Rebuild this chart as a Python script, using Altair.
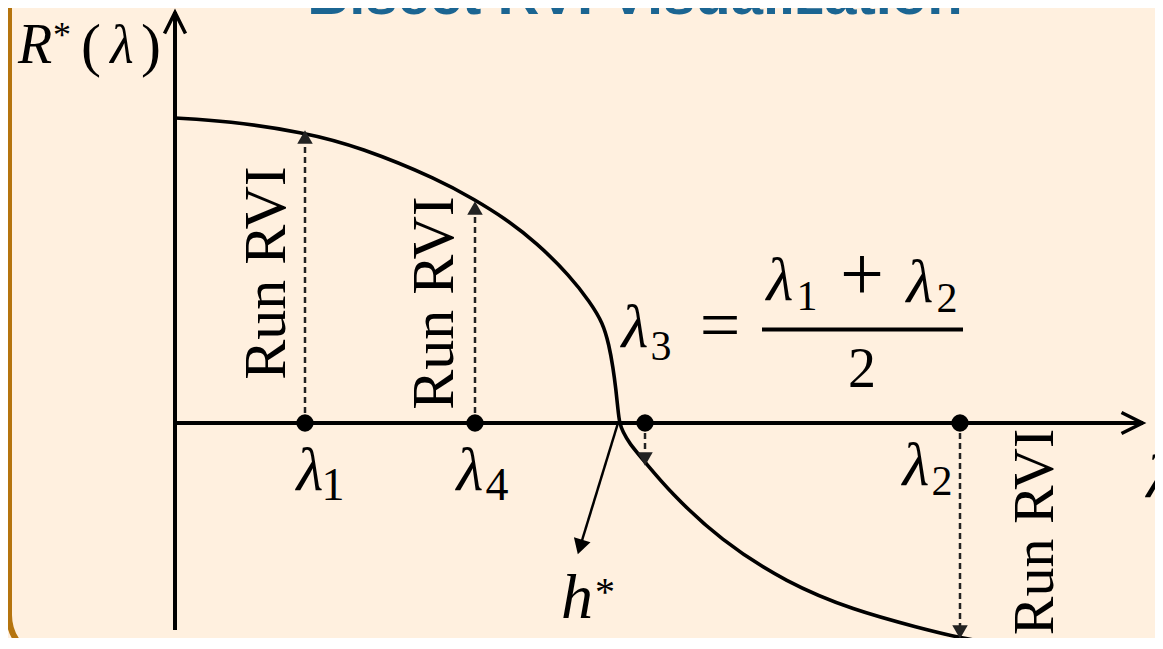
import altair as alt
import pandas as pd

# ---- curve R*(lambda), points (data units) ----
curve_lam = [0.00, 0.52, 1.28, 1.85, 2.65, 3.00, 3.28, 3.62, 3.95, 4.15, 4.28, 4.34,
             4.38, 4.41, 4.43, 4.445, 4.48, 4.54, 4.70, 4.95, 5.45, 6.12, 6.78,
             7.45, 7.85, 8.28, 8.75]
curve_R = [3.05, 3.02, 2.91, 2.76, 2.43, 2.23, 2.06, 1.80, 1.47, 1.21, 1.00, 0.78,
           0.56, 0.33, 0.13, 0.00, -0.09, -0.20, -0.39, -0.69, -1.17, -1.60, -1.87,
           -2.05, -2.15, -2.22, -2.29]

# ---- bisection points on the lambda axis ----
pt_names = ["λ1", "λ4", "λ3", "λ2"]
pt_lam = [1.30, 3.00, 4.70, 7.85]
shaft_end = [2.80, 2.10, -0.30, -2.05]
head_R = [2.86, 2.15, -0.36, -2.09]
head_shape = ["triangle-up", "triangle-up", "triangle-down", "triangle-down"]

# ---- axes ----
x_axis_end = 9.68
y_axis_bottom = -2.07
y_axis_top = 4.11
x_head = [9.57]
y_head = [4.00]

# ---- h* arrow ----
h_start = [4.43, 0.00]
h_end = [4.05, -1.24]

# ---- fraction bar ----
frac_x = [5.87, 7.88]
frac_y = 0.935

# ---- texts ----
ital_text = ["R", "λ", "λ", "λ", "λ", "λ", "λ", "λ", "λ", "h"]
ital_x = [-1.40, -0.53, 1.35, 2.95, 7.41, 4.60, 6.05, 7.45, 9.85, 4.02]
ital_y = [3.60, 3.60, -0.67, -0.67, -0.62, 0.76, 1.23, 1.21, -0.74, -1.95]
ital_size = [56, 54, 62, 62, 62, 62, 62, 62, 62, 64]

up_text = ["*", "(", ")", "1", "4", "2", "3", "1", "2", "2", "=", "+", "*"]
up_x = [-1.13, -0.84, -0.24, 1.58, 3.22, 7.67, 4.86, 6.32, 7.72, 6.87, 5.45, 6.87, 4.30]
up_y = [3.76, 3.58, 3.58, -0.77, -0.77, -0.72, 0.63, 1.13, 1.11, 0.36, 0.74, 1.23, -1.82]
up_size = [36, 60, 60, 46, 46, 42, 42, 42, 42, 56, 72, 78, 40]

run_text = ["Run RVI", "Run RVI", "Run RVI"]
run_x = [1.10, 2.78, 8.78]
run_y = [1.50, 1.20, -1.09]
run_size = [60, 60, 58]

title_text = "Bisect RVI Visualization"

W, H = 1147, 630
XS = alt.Scale(domain=[-1.67, 9.80], nice=False, zero=False)
YS = alt.Scale(domain=[(415 - H) / 100, 4.15], nice=False, zero=False)


def X(f="x"):
    return alt.X(f"{f}:Q", scale=XS, axis=None)


def Y(f="y"):
    return alt.Y(f"{f}:Q", scale=YS, axis=None)


one = pd.DataFrame({"a": [0]})

frame = alt.Chart(one).mark_rect(cornerRadius=45, fillOpacity=0, stroke="#B5740E",
                                 strokeWidth=6).encode(
    x=alt.value(1), x2=alt.value(2000), y=alt.value(-300), y2=alt.value(652))

title = alt.Chart(pd.DataFrame({"t": [title_text]})).mark_text(
    font="Liberation Sans", fontWeight="bold", fontSize=58, color="#1B6592",
    align="center", baseline="alphabetic").encode(
    x=alt.value(627), y=alt.value(6), text="t:N")

axes_df = pd.DataFrame({"x": [0, 0], "y": [0, y_axis_bottom],
                        "x2": [x_axis_end, 0], "y2": [0, y_axis_top]})
axes = alt.Chart(axes_df).mark_rule(color="black", strokeWidth=4).encode(
    x=X(), y=Y(), x2="x2:Q", y2="y2:Q")

xh = alt.Chart(pd.DataFrame({"x": x_head, "y": [0]})).mark_point(
    shape="M-1,-1L1,0L-1,1", filled=False, color="black", strokeWidth=3.5,
    size=440, opacity=1).encode(x=X(), y=Y())
yh = alt.Chart(pd.DataFrame({"x": [0], "y": y_head})).mark_point(
    shape="M-1,1L0,-1L1,1", filled=False, color="black", strokeWidth=3.5,
    size=440, opacity=1).encode(x=X(), y=Y())

curve = alt.Chart(pd.DataFrame({"x": curve_lam, "y": curve_R})).mark_line(
    color="black", strokeWidth=3.6, interpolate="basis").encode(
    x=X(), y=Y(), order=alt.Order("x:Q"))

pts = pd.DataFrame({"name": pt_names, "x": pt_lam, "y": [0] * 4,
                    "y2": shaft_end, "hy": head_R, "shape": head_shape})
dashed = alt.Chart(pts).mark_rule(color="#222", strokeWidth=2.5,
                                  strokeDash=[6, 4]).encode(x=X(), y=Y(), y2="y2:Q")
heads = alt.Chart(pts).mark_point(filled=True, color="#222", size=240,
                                  opacity=1).encode(
    x=X(), y=Y("hy"), shape=alt.Shape("shape:N", scale=None))
dots = alt.Chart(pts).mark_circle(color="black", size=300, opacity=1).encode(
    x=X(), y=Y())

harrow = alt.Chart(pd.DataFrame({"x": [h_start[0]], "y": [h_start[1]],
                                 "x2": [h_end[0]], "y2": [h_end[1]]})).mark_rule(
    color="black", strokeWidth=2.5).encode(x=X(), y=Y(), x2="x2:Q", y2="y2:Q")
hhead = alt.Chart(pd.DataFrame({"x": [h_end[0]], "y": [h_end[1]]})).mark_point(
    shape="triangle-down", angle=17, filled=True, color="black", size=300,
    opacity=1).encode(x=X(), y=Y())

frac = alt.Chart(pd.DataFrame({"x": [frac_x[0]], "x2": [frac_x[1]],
                               "y": [frac_y]})).mark_rule(
    color="black", strokeWidth=4).encode(x=X(), x2="x2:Q", y=Y())

ital = alt.Chart(pd.DataFrame({"t": ital_text, "x": ital_x, "y": ital_y,
                               "s": ital_size})).mark_text(
    font="Liberation Serif", fontStyle="italic", align="center",
    baseline="alphabetic", color="black").encode(
    x=X(), y=Y(), text="t:N", size=alt.Size("s:Q", scale=None))

upr = alt.Chart(pd.DataFrame({"t": up_text, "x": up_x, "y": up_y,
                              "s": up_size})).mark_text(
    font="Liberation Serif", align="center", baseline="alphabetic",
    color="black").encode(
    x=X(), y=Y(), text="t:N", size=alt.Size("s:Q", scale=None))

runs = alt.Chart(pd.DataFrame({"t": run_text, "x": run_x, "y": run_y,
                               "s": run_size})).mark_text(
    font="Liberation Serif", angle=270, align="center",
    baseline="alphabetic", color="black").encode(
    x=X(), y=Y(), text="t:N", size=alt.Size("s:Q", scale=None))

chart = alt.layer(
    frame, title, axes, xh, yh, curve, dashed, heads, dots, harrow, hhead,
    frac, ital, upr, runs
).properties(
    width=W, height=H,
    autosize=alt.AutoSizeParams(type="none"),
    padding={"left": 0, "right": 0, "top": 0, "bottom": 0},
).configure(background="#FFF0DF").configure_view(strokeWidth=0)

chart.save("out.html", embed_options={"renderer": "svg", "actions": False})
